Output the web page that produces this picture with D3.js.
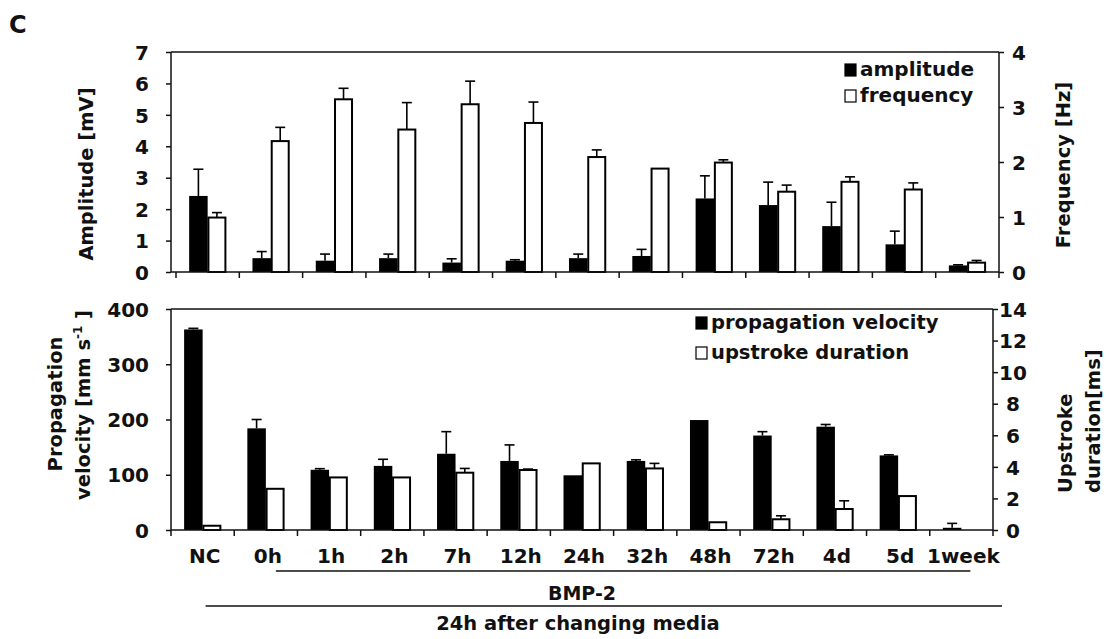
<!DOCTYPE html>
<html><head><meta charset="utf-8">
<script src="https://cdn.jsdelivr.net/npm/d3@7/dist/d3.min.js"></script>
<style>
body{margin:0;background:#fff}
svg{display:block}
text{font-family:"DejaVu Sans",sans-serif;font-weight:bold;fill:#111}
</style>
</head><body>
<svg id="chart" width="1109" height="639"></svg>
<script>
// ---- data ----
const categories = ["NC","0h","1h","2h","7h","12h","24h","32h","48h","72h","4d","5d","1week"];
const amplitude    = [2.42, 0.44, 0.36, 0.44, 0.30, 0.36, 0.44, 0.51, 2.34, 2.13, 1.46, 0.88, 0.21];
const amplitudeErr = [0.85, 0.21, 0.21, 0.13, 0.12, 0.03, 0.13, 0.21, 0.72, 0.73, 0.76, 0.42, 0.02];
const frequency    = [0.99, 2.38, 3.14, 2.59, 3.05, 2.71, 2.09, 1.88, 1.99, 1.46, 1.64, 1.50, 0.17];
const frequencyErr = [0.09, 0.25, 0.20, 0.49, 0.42, 0.38, 0.13, 0.00, 0.05, 0.12, 0.09, 0.12, 0.04];
const velocity     = [363, 184, 109, 116, 138, 125, 99, 125, 199, 171, 187, 135, 4];
const velocityErr  = [2, 16, 2, 12, 40, 29, 0, 2, 0, 7, 4, 1, 8];
const upstroke     = [0.27, 2.61, 3.33, 3.33, 3.63, 3.80, 4.22, 3.90, 0.49, 0.68, 1.33, 2.15, 0];
const upstrokeErr  = [0, 0, 0, 0, 0.27, 0.06, 0, 0.32, 0, 0.22, 0.52, 0, 0];
const ampTicks  = [0,1,2,3,4,5,6,7];
const freqTicks = [0,1,2,3,4];
const velTicks  = [0,100,200,300,400];
const upTicks   = [0,2,4,6,8,10,12,14];

const svg = d3.select("#chart");

// ---- scales ----
const xTop = d3.scaleBand().domain(categories).range([176, 999]);
const xBot = d3.scaleBand().domain(categories).range([171, 993]);
const yAmp  = d3.scaleLinear().domain([0, 7]).range([272, 52]);
const yFreq = d3.scaleLinear().domain([0, 4]).range([272, 52]);
const yVel  = d3.scaleLinear().domain([0, 400]).range([530, 309]);
const yUp   = d3.scaleLinear().domain([0, 14]).range([530, 309]);

const BW = 18.5, CAP = 10;

function styleAxis(g, anchor, x) {
  g.select(".domain").remove();
  g.selectAll(".tick line").attr("stroke", "#111").attr("stroke-width", 1.5);
  g.selectAll(".tick text")
    .attr("font-family", "DejaVu Sans").attr("font-weight", "bold")
    .attr("font-size", 20).attr("fill", "#111")
    .attr("text-anchor", anchor).attr("x", x).attr("dy", "0.36em");
}

function panel(x, yL, yR, left, leftErr, right, rightErr, leftX, rightX, lTicks, rTicks) {
  const g = svg.append("g");
  const top = yL.range()[1], bot = yL.range()[0];
  // bars
  categories.forEach((c, i) => {
    const cx = x(c) + x.bandwidth() / 2;
    g.append("rect").attr("x", cx - BW).attr("width", BW)
      .attr("y", yL(left[i])).attr("height", bot - yL(left[i]))
      .attr("fill", "#000");
    if (right[i] > 0) {
      g.append("rect").attr("x", cx + 0.75).attr("width", BW - 1.5)
        .attr("y", yR(right[i])).attr("height", bot - yR(right[i]))
        .attr("fill", "#fff").attr("stroke", "#000").attr("stroke-width", 2);
    }
    // error bars
    const eb = (ex, y0, y1) => {
      g.append("line").attr("x1", ex).attr("x2", ex).attr("y1", y0).attr("y2", y1)
        .attr("stroke", "#000").attr("stroke-width", 1.6);
      g.append("line").attr("x1", ex - CAP / 2).attr("x2", ex + CAP / 2).attr("y1", y1).attr("y2", y1)
        .attr("stroke", "#000").attr("stroke-width", 1.6);
    };
    if (leftErr[i] > 0) eb(cx - BW / 2, yL(left[i]), yL(left[i] + leftErr[i]));
    if (rightErr[i] > 0) eb(cx + BW / 2, yR(right[i]), yR(right[i] + rightErr[i]));
  });
  // frame
  const fr = g.append("g").attr("stroke", "#111").attr("stroke-width", 1.5);
  fr.append("line").attr("x1", leftX).attr("x2", rightX).attr("y1", top).attr("y2", top);
  fr.append("line").attr("x1", leftX).attr("x2", rightX).attr("y1", bot).attr("y2", bot);
  fr.append("line").attr("x1", leftX).attr("x2", leftX).attr("y1", top).attr("y2", bot);
  fr.append("line").attr("x1", rightX).attr("x2", rightX).attr("y1", top).attr("y2", bot);
  // x ticks at band boundaries
  const bounds = categories.map(c => x(c)).concat([x.range()[1]]);
  fr.selectAll(null).data(bounds).enter().append("line")
    .attr("x1", d => d).attr("x2", d => d).attr("y1", bot).attr("y2", bot + 6);
  // y axes
  g.append("g").attr("transform", `translate(${leftX},0)`)
    .call(d3.axisLeft(yL).tickValues(lTicks).tickSize(5).tickFormat(d3.format("d")))
    .call(a => styleAxis(a, "end", -22));
  g.append("g").attr("transform", `translate(${rightX},0)`)
    .call(d3.axisRight(yR).tickValues(rTicks).tickSize(5).tickFormat(d3.format("d")))
    .call(a => styleAxis(a, "middle", 20));
  return g;
}

panel(xTop, yAmp, yFreq, amplitude, amplitudeErr, frequency, frequencyErr, 171, 999, ampTicks, freqTicks);
panel(xBot, yVel, yUp, velocity, velocityErr, upstroke, upstrokeErr, 171, 993, velTicks, upTicks);

// x labels (bottom panel)
svg.append("g").selectAll("text").data(categories).enter().append("text")
  .attr("x", d => xBot(d) + xBot.bandwidth() / 2 + 2).attr("y", 563)
  .attr("text-anchor", "middle").attr("font-size", 20).text(d => d);

// group lines
const c0h = xBot("0h") + xBot.bandwidth() / 2, cwk = xBot("1week") + xBot.bandwidth() / 2;
const cnc = xBot("NC") + xBot.bandwidth() / 2;
svg.append("line").attr("x1", c0h + 10).attr("x2", cwk + 9).attr("y1", 571).attr("y2", 571)
  .attr("stroke", "#111").attr("stroke-width", 1.5);
svg.append("text").attr("x", 582).attr("y", 600).attr("text-anchor", "middle")
  .attr("font-size", 19).text("BMP-2");
svg.append("line").attr("x1", cnc + 3).attr("x2", 1002).attr("y1", 606).attr("y2", 606)
  .attr("stroke", "#111").attr("stroke-width", 1.5);
svg.append("text").attr("x", 578).attr("y", 630).attr("text-anchor", "middle")
  .attr("font-size", 19.5).text("24h after changing media");

// panel letter
svg.append("text").attr("x", 9).attr("y", 33).attr("font-size", 24).text("C");

// axis titles
svg.append("text").attr("transform", "translate(93,174) rotate(-90)")
  .attr("text-anchor", "middle").attr("font-size", 19.5).text("Amplitude [mV]");
svg.append("text").attr("transform", "translate(1070,165) rotate(-90)")
  .attr("text-anchor", "middle").attr("font-size", 19.5).text("Frequency [Hz]");
svg.append("text").attr("transform", "translate(62,404) rotate(-90)")
  .attr("text-anchor", "middle").attr("font-size", 19.5).text("Propagation");
const vt = svg.append("text").attr("transform", "translate(90,405) rotate(-90)")
  .attr("text-anchor", "middle").attr("font-size", 19.5);
vt.append("tspan").text("velocity [mm s");
vt.append("tspan").attr("font-size", 12).attr("dy", -8).text("-1");
vt.append("tspan").attr("dy", 8).text(" ]");
svg.append("text").attr("transform", "translate(1072,493) rotate(-90)")
  .attr("text-anchor", "start").attr("font-size", 19.5).text("Upstroke");
svg.append("text").attr("transform", "translate(1100,493) rotate(-90)")
  .attr("text-anchor", "start").attr("font-size", 19.5).text("duration[ms]");

// legends
function legend(x, y, items, fs) {
  items.forEach((it, i) => {
    const yy = y + i * it.step;
    svg.append("rect").attr("x", x).attr("y", yy - 12).attr("width", 11).attr("height", 12)
      .attr("fill", it.fill).attr("stroke", "#000").attr("stroke-width", 1.2);
    svg.append("text").attr("x", x + 15).attr("y", yy).attr("font-size", fs).text(it.label);
  });
}
legend(845, 76, [{fill:"#000", label:"amplitude", step:0}, {fill:"#fff", label:"frequency", step:26}], 20);
legend(696, 329, [{fill:"#000", label:"propagation velocity", step:0}, {fill:"#fff", label:"upstroke duration", step:30}], 19.5);
</script>
</body></html>
